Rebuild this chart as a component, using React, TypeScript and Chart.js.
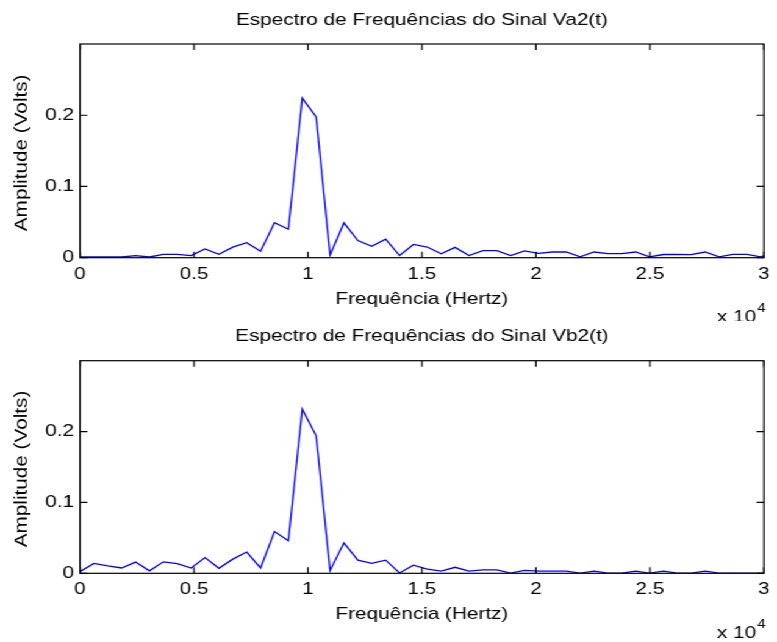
import React, { useEffect, useRef } from 'react';
import { Chart, registerables } from 'chart.js';

Chart.register(...registerables);

// FFT bin spacing (Hz) of the sampled signals
const BIN_HZ = 609.4;

// Amplitude spectrum of Va2(t), one value per bin
const va2Amplitude = [
  0.001, 0.001, 0.001, 0.001, 0.003, 0.001, 0.0048, 0.0048, 0.003, 0.0124,
  0.0048, 0.0148, 0.021, 0.009, 0.049, 0.040, 0.224, 0.1975, 0.0037, 0.049,
  0.024, 0.016, 0.026, 0.003, 0.0186, 0.015, 0.0056, 0.0145, 0.003, 0.010,
  0.010, 0.003, 0.0095, 0.006, 0.008, 0.008, 0.0012, 0.008, 0.0056, 0.0056,
  0.008, 0.0012, 0.0045, 0.0045, 0.0042, 0.008, 0.0012, 0.0048, 0.0048, 0.0012,
  0.008,
];

// Amplitude spectrum of Vb2(t), one value per bin
const vb2Amplitude = [
  0.0024, 0.014, 0.0105, 0.0075, 0.0158, 0.0035, 0.0162, 0.0135, 0.0075, 0.0222,
  0.007, 0.020, 0.030, 0.0075, 0.059, 0.046, 0.2315, 0.194, 0.0038, 0.043,
  0.0185, 0.014, 0.0185, 0.0005, 0.0115, 0.006, 0.003, 0.0085, 0.003, 0.0047,
  0.0047, 0.0003, 0.004, 0.003, 0.003, 0.003, 0.0003, 0.003, 0.0003, 0.0003,
  0.003, 0.0003, 0.003, 0.0003, 0.0003, 0.003, 0.0003, 0.0003, 0.0003, 0.0003,
  0.0003,
];

const xTickValues = [0, 5000, 10000, 15000, 20000, 25000, 30000];
const yTickValues = [0, 0.1, 0.2];
const X_MAX = 30000;
const Y_MAX = 0.3;

const plotTitles = [
  'Espectro de Frequências do Sinal Va2(t)',
  'Espectro de Frequências do Sinal Vb2(t)',
];
const xAxisTitle = 'Frequência (Hertz)';
const yAxisTitle = 'Amplitude (Volts)';
const xExponentBase = 'x 10';
const xExponent = '4';

const FONT = '"Liberation Sans", Arial, Helvetica, sans-serif';
const FONT_PX = 17;

// the figure is laid out in a narrower box and stretched horizontally
const INNER_W = 637;
const PANEL_H = 321;
const STRETCH = 777 / INNER_W;

type PanelOpts = {
  title: string;
  areaTop: number;
  areaBottom: number;
};

const matlabAxes = {
  id: 'matlabAxes',
  afterDatasetsDraw(chart: any) {
    const { ctx, chartArea: a, scales } = chart;
    const tl = 6;
    ctx.save();
    ctx.strokeStyle = '#000';
    ctx.lineWidth = 1.2;
    ctx.strokeRect(a.left, a.top, a.right - a.left, a.bottom - a.top);
    ctx.beginPath();
    for (const t of scales.x.ticks) {
      const px = scales.x.getPixelForValue(t.value);
      ctx.moveTo(px, a.bottom);
      ctx.lineTo(px, a.bottom - tl);
      ctx.moveTo(px, a.top);
      ctx.lineTo(px, a.top + tl);
    }
    for (const t of scales.y.ticks) {
      const py = scales.y.getPixelForValue(t.value);
      ctx.moveTo(a.left, py);
      ctx.lineTo(a.left + tl, py);
      ctx.moveTo(a.right, py);
      ctx.lineTo(a.right - tl, py);
    }
    ctx.stroke();
    ctx.restore();
  },
  afterDraw(chart: any, _args: any, opts: any) {
    const { ctx, chartArea: a } = chart;
    const cx = (a.left + a.right) / 2;
    ctx.save();
    ctx.fillStyle = '#000';
    ctx.font = `${FONT_PX}px ${FONT}`;
    ctx.textAlign = 'center';
    ctx.textBaseline = 'middle';
    ctx.fillText(opts.title, cx, a.top - 24);
    ctx.fillText(xAxisTitle, cx, a.bottom + 41.5);

    ctx.textAlign = 'left';
    const baseX = a.right - 38.5;
    ctx.fillText(xExponentBase, baseX, a.bottom + 60);
    const w = ctx.measureText(xExponentBase).width;
    ctx.font = `12px ${FONT}`;
    ctx.fillText(xExponent, baseX + w + 1, a.bottom + 51);

    // rotated label: lengthen along the text, keep glyph height unstretched
    ctx.font = `${FONT_PX}px ${FONT}`;
    ctx.textAlign = 'center';
    ctx.translate(18, (a.top + a.bottom) / 2 + 2);
    ctx.rotate(-Math.PI / 2);
    ctx.scale(STRETCH, 1 / STRETCH);
    ctx.fillText(yAxisTitle, 0, 0);
    ctx.restore();
  },
};

function buildChart(canvas: HTMLCanvasElement, values: number[], panel: PanelOpts) {
  const points = values.map((v, i) => ({ x: i * BIN_HZ, y: v }));
  return new Chart(canvas, {
    type: 'line',
    data: {
      datasets: [
        {
          data: points,
          borderColor: '#0000ff',
          borderWidth: 1.3,
          pointRadius: 0,
          tension: 0,
          fill: false,
        },
      ],
    },
    options: {
      animation: false,
      responsive: true,
      maintainAspectRatio: false,
      events: [],
      layout: {
        padding: { left: 0, right: INNER_W - 769 / STRETCH, top: panel.areaTop, bottom: 0 },
      },
      plugins: {
        legend: { display: false },
        title: { display: false },
        tooltip: { enabled: false },
        matlabAxes: { title: panel.title },
      } as any,
      scales: {
        x: {
          type: 'linear',
          min: 0,
          max: X_MAX,
          grid: { display: false, drawTicks: false },
          border: { display: false },
          afterBuildTicks: (s: any) => {
            s.ticks = xTickValues.map((v) => ({ value: v }));
          },
          afterFit: (s: any) => {
            s.height = PANEL_H - panel.areaBottom;
          },
          ticks: {
            autoSkip: false,
            maxRotation: 0,
            padding: 6,
            color: '#000',
            font: { family: FONT, size: FONT_PX },
            callback: (v: any) => String(Number(v) / 10000),
          },
        },
        y: {
          type: 'linear',
          min: 0,
          max: Y_MAX,
          grid: { display: false, drawTicks: false },
          border: { display: false },
          afterBuildTicks: (s: any) => {
            s.ticks = yTickValues.map((v) => ({ value: v }));
          },
          afterFit: (s: any) => {
            s.width = 80 / STRETCH;
          },
          ticks: {
            padding: 5,
            color: '#000',
            font: { family: FONT, size: FONT_PX },
            callback: (v: any) => String(Number(Number(v).toFixed(2))),
          },
        },
      },
    },
    plugins: [matlabAxes],
  });
}

export default function App() {
  const topRef = useRef<HTMLCanvasElement>(null);
  const bottomRef = useRef<HTMLCanvasElement>(null);

  useEffect(() => {
    const charts: Chart[] = [];
    if (topRef.current) {
      charts.push(
        buildChart(topRef.current, va2Amplitude, {
          title: plotTitles[0],
          areaTop: 44,
          areaBottom: 257.7,
        })
      );
    }
    if (bottomRef.current) {
      charts.push(
        buildChart(bottomRef.current, vb2Amplitude, {
          title: plotTitles[1],
          areaTop: 360.7 - PANEL_H,
          areaBottom: 573.3 - PANEL_H,
        })
      );
    }
    return () => charts.forEach((c) => c.destroy());
  }, []);

  return (
    <div
      style={{
        position: 'absolute',
        left: 0,
        top: 0,
        width: INNER_W,
        height: PANEL_H * 2,
        background: '#fff',
        transform: `scaleX(${STRETCH})`,
        transformOrigin: '0 0',
      }}
    >
      <div style={{ position: 'relative', width: INNER_W, height: PANEL_H }}>
        <canvas ref={topRef} />
      </div>
      <div style={{ position: 'relative', width: INNER_W, height: PANEL_H }}>
        <canvas ref={bottomRef} />
      </div>
    </div>
  );
}
